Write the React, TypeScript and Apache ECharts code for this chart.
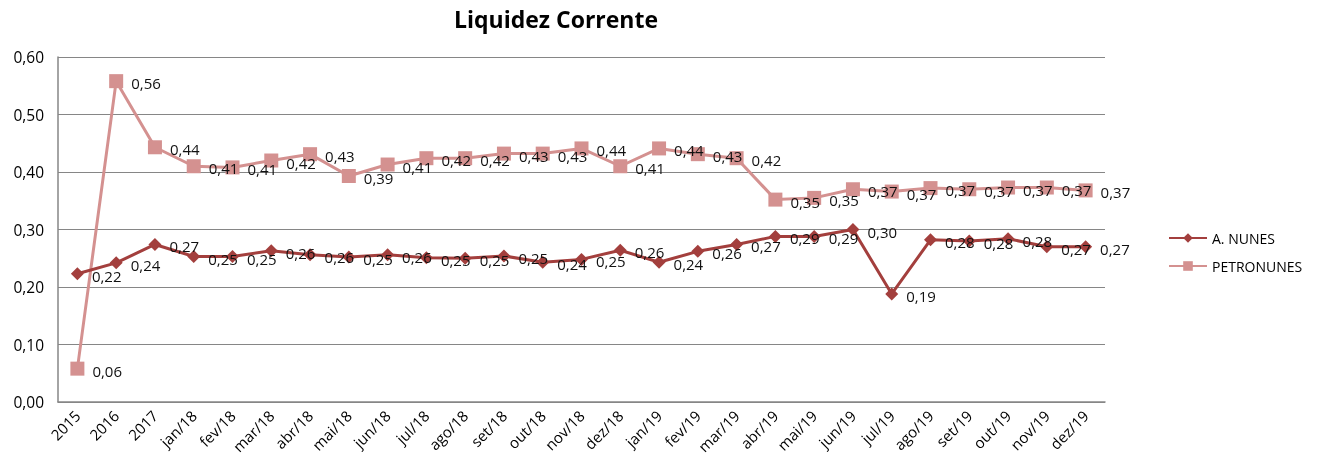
import React, { useEffect, useRef } from "react";
import * as echarts from "echarts";

const categories = [
  "2015", "2016", "2017", "jan/18", "fev/18", "mar/18", "abr/18", "mai/18", "jun/18",
  "jul/18", "ago/18", "set/18", "out/18", "nov/18", "dez/18", "jan/19", "fev/19",
  "mar/19", "abr/19", "mai/19", "jun/19", "jul/19", "ago/19", "set/19", "out/19",
  "nov/19", "dez/19",
];

const aNunes = [
  0.223, 0.242, 0.274, 0.253, 0.253, 0.263, 0.256, 0.252, 0.256, 0.251, 0.25, 0.254,
  0.243, 0.248, 0.264, 0.243, 0.262, 0.274, 0.288, 0.288, 0.3, 0.188, 0.282, 0.28,
  0.284, 0.27, 0.27,
];

const petronunes = [
  0.058, 0.558, 0.443, 0.41, 0.408, 0.42, 0.431, 0.393, 0.413, 0.424, 0.424, 0.432,
  0.432, 0.441, 0.41, 0.441, 0.431, 0.424, 0.352, 0.355, 0.37, 0.366, 0.372, 0.37,
  0.373, 0.373, 0.368,
];

const yTicks = { min: 0, max: 0.6, interval: 0.1 };

const fmt = (v: number) => v.toFixed(2).replace(".", ",");

export default function App() {
  const ref = useRef<HTMLDivElement>(null);
  useEffect(() => {
    if (!ref.current) return;
    const chart = echarts.init(ref.current, undefined, { renderer: "svg" });
    const font = "'Open Sans', sans-serif";
    const labelStyle = {
      show: true,
      position: "right" as const,
      distance: 8,
      color: "#111",
      fontSize: 15,
      fontFamily: font,
      offset: [0, 2],
      formatter: (p: any) => fmt(p.value),
    };
    chart.setOption({
      animation: false,
      title: {
        text: "Liquidez Corrente",
        left: 551,
        textAlign: "center",
        top: 2,
        textStyle: { fontSize: 23, fontWeight: "bold", color: "#000", fontFamily: font },
      },
      grid: { left: 58, right: 215, top: 57, bottom: 59, containLabel: false },
      legend: {
        orient: "vertical",
        left: 1163,
        top: 226,
        itemWidth: 38,
        itemHeight: 12,
        itemGap: 14,
        textStyle: { fontSize: 14, color: "#000", fontFamily: font },
        data: ["A. NUNES", "PETRONUNES"],
      },
      xAxis: {
        type: "category",
        data: categories,
        boundaryGap: true,
        axisLine: { lineStyle: { color: "#868686", width: 1.5 } },
        axisTick: { show: false },
        axisLabel: {
          rotate: 45,
          color: "#000",
          fontSize: 15,
          fontFamily: font,
          margin: 11,
          interval: 0,
        },
      },
      yAxis: {
        type: "value",
        min: yTicks.min,
        max: yTicks.max,
        interval: yTicks.interval,
        axisLine: { show: true, lineStyle: { color: "#868686", width: 1.5 } },
        axisTick: { show: false },
        splitLine: { lineStyle: { color: "#868686", width: 1 } },
        axisLabel: {
          color: "#000",
          fontSize: 15.5,
          fontFamily: font,
          margin: 14,
          formatter: (v: number) => fmt(v),
        },
      },
      series: [
        {
          name: "A. NUNES",
          type: "line",
          data: aNunes,
          symbol: "diamond",
          symbolSize: 13,
          lineStyle: { color: "#a33f3d", width: 3 },
          itemStyle: { color: "#a33f3d" },
          label: labelStyle,
          z: 3,
        },
        {
          name: "PETRONUNES",
          type: "line",
          data: petronunes,
          symbol: "rect",
          symbolSize: 14,
          lineStyle: { color: "#d49190", width: 3 },
          itemStyle: { color: "#d49190" },
          label: labelStyle,
          z: 2,
        },
      ],
    });
    return () => chart.dispose();
  }, []);
  return (
    <div
      ref={ref}
      style={{ position: "fixed", left: 0, top: 0, width: 1320, height: 461 }}
    />
  );
}
